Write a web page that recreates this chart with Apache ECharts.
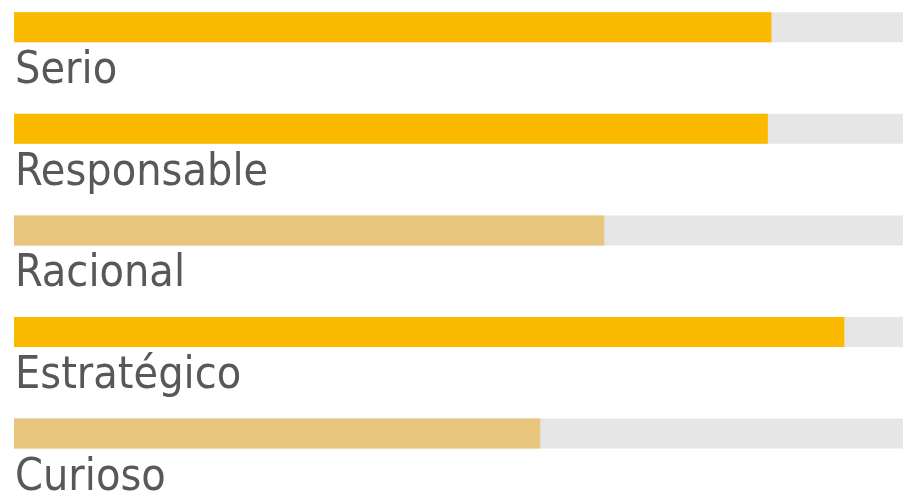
<!DOCTYPE html>
<html>
<head>
<meta charset="utf-8">
<script src="https://cdn.jsdelivr.net/npm/echarts@6/dist/echarts.min.js"></script>
<style>
html,body{margin:0;padding:0;background:#fff;}
#chart{width:903px;height:502px;}
</style>
</head>
<body>
<div id="chart"></div>
<script>
const categories = ['Serio', 'Responsable', 'Racional', 'Estratégico', 'Curioso'];
const values = [85.2, 84.8, 66.4, 93.4, 59.2];
const maxValue = 100;
const barColors = ['#FBBA00', '#FBBA00', '#E9C67E', '#FBBA00', '#E9C67E'];

const chart = echarts.init(document.getElementById('chart'));
chart.setOption({
  animation: false,
  grid: { left: 14, right: 0, top: -23.6, height: 508, outerBoundsMode: 'none', containLabel: false },
  xAxis: {
    type: 'value', min: 0, max: maxValue,
    show: false
  },
  yAxis: {
    type: 'category', data: categories, inverse: true,
    show: false
  },
  series: [{
    type: 'bar',
    data: values,
    barWidth: 30,
    showBackground: true,
    backgroundStyle: { color: '#E6E6E6' },
    itemStyle: { color: p => barColors[p.dataIndex] },
    label: {
      show: true,
      formatter: '{b}',
      position: [1, 37],
      align: 'left',
      verticalAlign: 'top',
      color: '#58585A',
      fontFamily: '"DejaVu Sans Condensed", sans-serif',
      fontSize: 44.5
    }
  }]
});
</script>
</body>
</html>
